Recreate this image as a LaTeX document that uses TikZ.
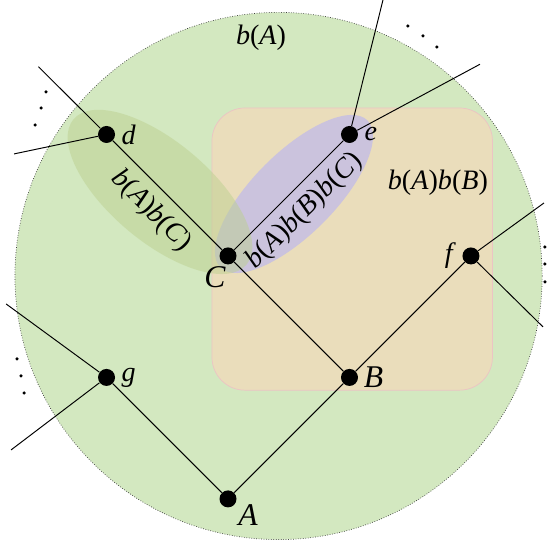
\documentclass[tikz,border=0pt]{standalone}
\usepackage{fontspec}
\setmainfont{Liberation Serif}
\usetikzlibrary{shapes.geometric}

\definecolor{regionA}{RGB}{211,232,192}
\definecolor{regionAB}{RGB}{234,221,187}
\definecolor{regionABC}{RGB}{203,195,221}
\definecolor{regionAC}{RGB}{189,208,144}
\definecolor{rimAB}{RGB}{236,196,196}

\newcommand{\bset}[1]{\textit{b}(\textit{#1})}

\begin{document}
\begin{tikzpicture}[
        x=2.43cm, y=2.43cm,
        vertex/.style={circle, fill=black, inner sep=0pt, minimum size=0.34cm},
        edge/.style={black, line width=0.55pt},
        lbl/.style={font=\fontsize{16}{18}\selectfont},
        biglbl/.style={font=\fontsize{18}{20}\selectfont, inner sep=1pt},
        ddot/.style={fill=black}
    ]
    \useasboundingbox (-1.877,-0.387) rectangle (2.626,4.107);

    % regions
    \fill[regionA] (0.416,1.835) circle (2.17);
    \draw[black!75, densely dotted, line width=0.4pt] (0.416,1.835) circle (2.17);
    \draw[rimAB, fill=regionAB, rounded corners=0.66cm, line width=0.4pt] (-0.132,0.895) rectangle (2.177,3.218);
    \fill[regionABC, rotate around={45:(0.543,2.510)}] (0.543,2.510) ellipse [x radius=2.08cm, y radius=0.82cm];
    \fill[regionAC, opacity=0.5, rotate around={-40:(-0.560,2.527)}] (-0.560,2.527) ellipse [x radius=2.26cm, y radius=1.0cm];

    \node[lbl] (bA) at (0.272,3.794) {\bset{A}};
    \node[lbl] (bAbB) at (1.728,2.600) {\bset{A}\bset{B}};

    % vertices
    \node[vertex, label={[biglbl]-22:\textit{A}}] (A) at (0,0) {};
    \node[vertex, label={[biglbl, xshift=2pt]right:\textit{B}}] (B) at (1,1) {};
    \node[vertex, label={[biglbl, xshift=2pt]-115:\textit{C}}] (C) at (0,2) {};
    \node[vertex, label={[lbl]right:\textit{d}}] (d) at (-1,3) {};
    \node[vertex, label={[lbl]right:\textit{e}}] (e) at (1,3) {};
    \node[vertex, label={[lbl]left:\textit{f}}] (f) at (2,2) {};
    \node[vertex, label={[lbl]right:\textit{g}}] (g) at (-1,1) {};

    % loose ends
    \coordinate (d1) at (-1.561,3.558);
    \coordinate (d2) at (-1.761,2.840);
    \coordinate (e1) at (1.289,4.160);
    \coordinate (e2) at (2.074,3.578);
    \coordinate (f1) at (2.601,2.436);
    \coordinate (f2) at (2.593,1.416);
    \coordinate (g1) at (-1.827,1.605);
    \coordinate (g2) at (-1.786,0.403);

    \draw[edge] (A) -- (g);
    \draw[edge] (A) -- (B);
    \draw[edge] (B) -- (f);
    \draw[edge] (B) -- (C);
    \draw[edge] (d) -- node[lbl, midway, sloped, below=2pt] {\bset{A}\bset{C}} (C);
    \draw[edge] (C) -- node[lbl, midway, sloped, below=2pt] {\bset{A}\bset{B}\bset{C}} (e);
    \draw[edge] (d) -- (d1);
    \draw[edge] (d) -- (d2);
    \draw[edge] (e) -- (e1);
    \draw[edge] (e) -- (e2);
    \draw[edge] (f) -- (f1);
    \draw[edge] (f) -- (f2);
    \draw[edge] (g) -- (g1);
    \draw[edge] (g) -- (g2);

    % dots for the omitted branches
    \foreach \p in {(-1.498,3.350), (-1.539,3.218), (-1.588,3.078),
                    (1.481,3.893), (1.605,3.811), (1.720,3.720),
                    (2.609,2.074), (2.609,1.934), (2.609,1.786),
                    (-1.737,1.152), (-1.704,1.012), (-1.679,0.872)}
        \fill[ddot] \p circle (0.035cm);
\end{tikzpicture}
\end{document}
